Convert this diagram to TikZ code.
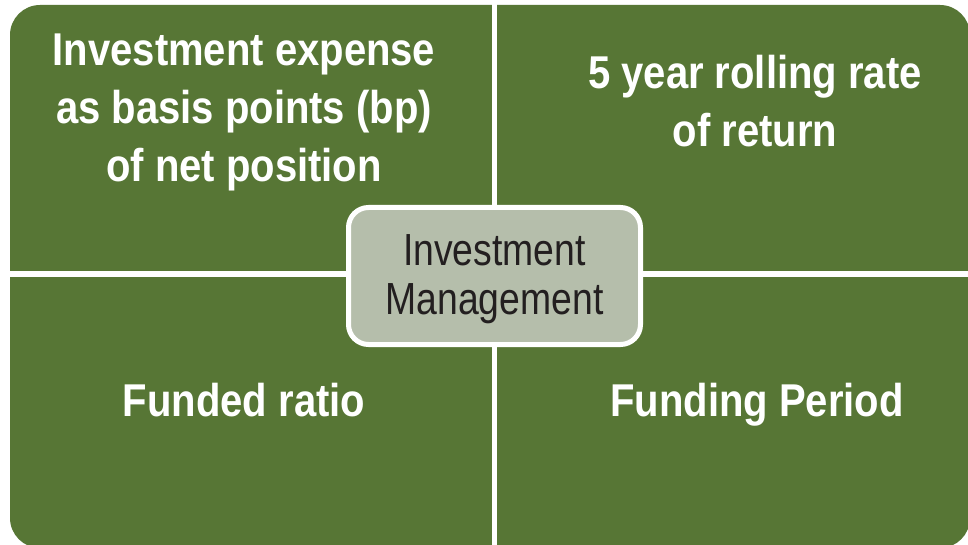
\documentclass[tikz,border=0pt]{standalone}
\usepackage{fontspec}
\setmainfont{Liberation Sans}
\newfontfamily\quadfont[FakeStretch=0.87]{Liberation Sans}
\newfontfamily\centerfont[FakeStretch=0.83]{Liberation Sans}
\definecolor{olive}{RGB}{87,118,53}
\definecolor{sage}{RGB}{181,190,171}
\definecolor{inkdark}{RGB}{35,31,32}
\tikzset{
  quadtext/.style={text=white, align=center, inner sep=0pt,
    font=\quadfont\bfseries\fontsize{46}{58}\selectfont},
  centertext/.style={text=inkdark, align=center, inner sep=0pt,
    font=\centerfont\fontsize{45}{49}\selectfont},
  hubbox/.style={draw=white, line width=5pt, fill=sage, rounded corners=20pt,
    minimum width=292pt, minimum height=137pt, inner sep=0pt},
  divider/.style={draw=white}
}
\begin{document}
\begin{tikzpicture}[x=1pt,y=-1pt]
\useasboundingbox (0,0) rectangle (968,545);
\fill[white] (0,0) rectangle (968,545);
\begin{scope}
\clip (0,0) rectangle (968,545);
\fill[olive, rounded corners=30pt] (10,5) rectangle (970,548);
\end{scope}
\coordinate (vtop) at (494.5,0);
\coordinate (vbot) at (494.5,545);
\coordinate (hleft) at (0,274);
\coordinate (hright) at (968,274);
\draw[divider, line width=5pt] (vtop) -- (vbot);
\draw[divider, line width=6pt] (hleft) -- (hright);
\node[hubbox] (hub) at (494.5,276) {};
\node[centertext] (hubtext) at (494.5,279) {Investment\\Management};
\node[quadtext] (tl) at (244,112.3) {Investment expense\\as basis points (bp)\\of net position};
\node[quadtext] (tr) at (755,101.5) {5 year rolling rate\\of return};
\node[quadtext] (bl) at (244,400) {Funded ratio};
\node[quadtext] (br) at (757,404.6) {Funding Period};
\end{tikzpicture}
\end{document}
